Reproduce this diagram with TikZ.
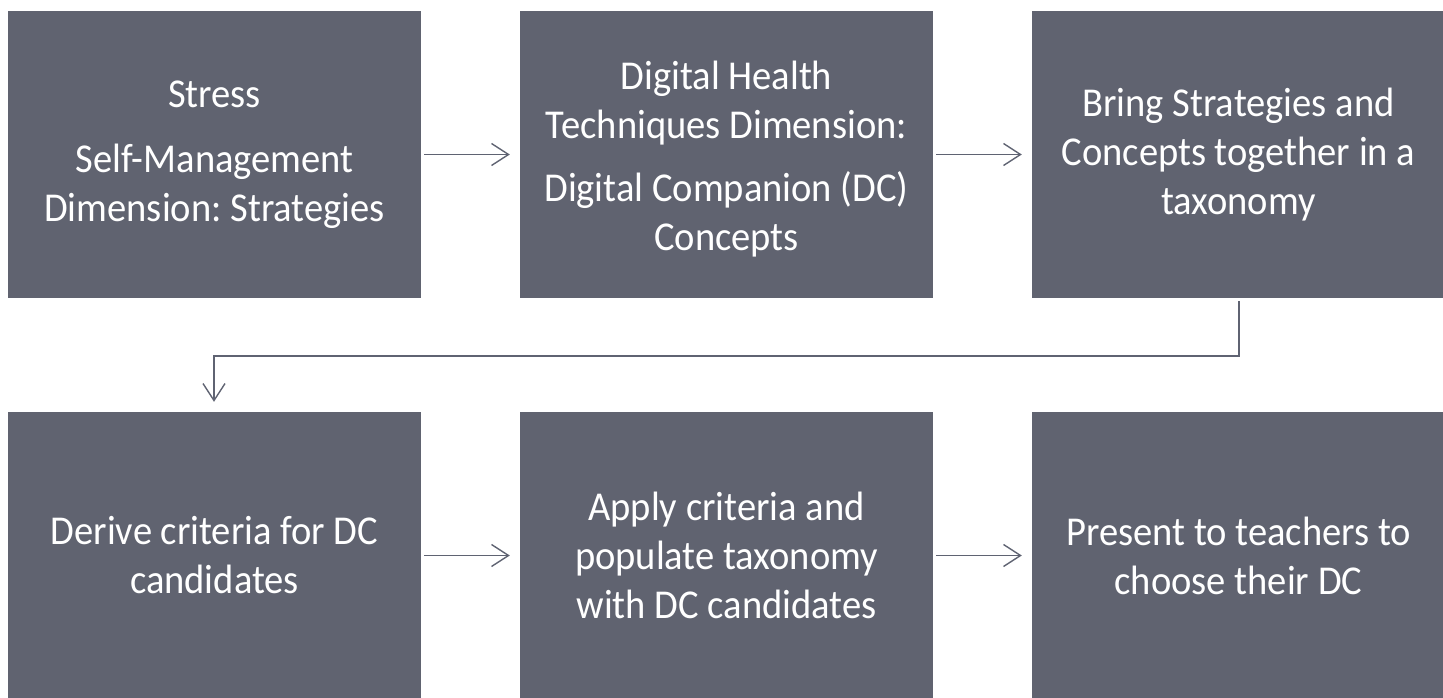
\documentclass[tikz,border=0pt]{standalone}
\usepackage{fontspec}
\setmainfont[FakeStretch=0.94]{Carlito}
\usetikzlibrary{arrows.meta}
\definecolor{boxgray}{HTML}{606370}
\definecolor{linegray}{HTML}{5F6372}
\tikzset{
  stepbox/.style={fill=boxgray, draw=none, minimum width=413pt, minimum height=287pt,
    text=white, align=center, inner sep=0pt,
    font=\fontsize{41pt}{49pt}\selectfont\frenchspacing},
  flow/.style={draw=linegray, line width=1.4pt,
    -{Straight Barb[length=17pt,width=22pt,line width=1.4pt]}}
}
\begin{document}
\begin{tikzpicture}[x=1pt,y=-1pt]
\useasboundingbox (0,0) rectangle (1443,698);
\node[stepbox] (b1) at (214.5,154.5) {Stress\\[16pt]Self-Management\\Dimension: Strategies};
\node[stepbox] (b2) at (726.5,154.5) {\rule{0pt}{37pt}Digital Health\\Techniques Dimension:\\[14pt]Digital Companion (DC)\\Concepts};
\node[stepbox] (b3) at (1238.5,154.5) {Bring Strategies and\\Concepts together in a\\taxonomy};
\node[stepbox] (b4) at (214.5,555.5) {Derive criteria for DC\\candidates};
\node[stepbox] (b5) at (726.5,555.5) {Apply criteria and\\populate taxonomy\\with DC candidates};
\node[stepbox] (b6) at (1238.5,555.5) {Present to teachers to\\choose their DC};
\coordinate (t1) at (1239,356);
\coordinate (t2) at (214,356);
\draw[flow, shorten <=3pt, shorten >=10pt] (b1.east) -- (b2.west);
\draw[flow, shorten <=3pt, shorten >=10pt] (b2.east) -- (b3.west);
\draw[flow, shorten <=3pt, shorten >=10pt] (b4.east) -- (b5.west);
\draw[flow, shorten <=3pt, shorten >=10pt] (b5.east) -- (b6.west);
\draw[flow, shorten <=3pt, shorten >=10pt] (b3.south -| t1) -- (t1) -- (t2) -- (t2 |- b4.north);
\end{tikzpicture}
\end{document}
